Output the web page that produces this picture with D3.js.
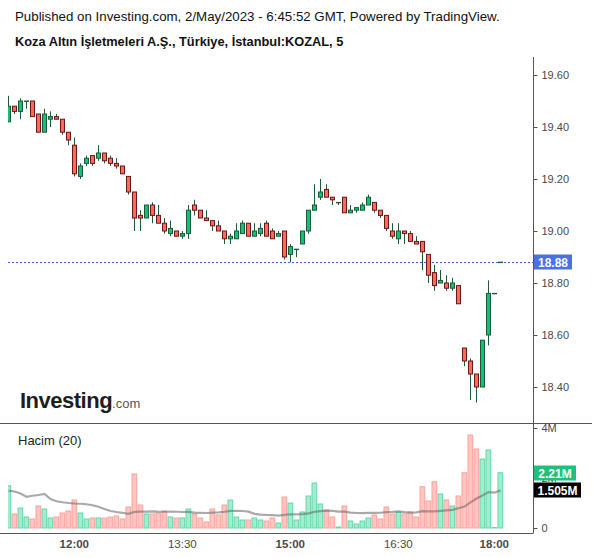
<!DOCTYPE html>
<html>
<head>
<meta charset="utf-8">
<script src="https://cdn.jsdelivr.net/npm/d3@7"></script>
<style>
  body { margin: 0; background: #fff; }
  svg { display: block; font-family: "Liberation Sans", Arial, sans-serif; }
</style>
</head>
<body>
<svg id="chart"></svg>
<script>
// ----------------------------------------- Data -----------------------------------------

// 5 minute bars, KOZAL, 2 May 2023 (17:25 and 17:30 have no bar)
var times = [
  "11:05","11:10","11:15","11:20","11:25","11:30","11:35","11:40","11:45","11:50","11:55",
  "12:00","12:05","12:10","12:15","12:20","12:25","12:30","12:35","12:40","12:45","12:50","12:55",
  "13:00","13:05","13:10","13:15","13:20","13:25","13:30","13:35","13:40","13:45","13:50","13:55",
  "14:00","14:05","14:10","14:15","14:20","14:25","14:30","14:35","14:40","14:45","14:50","14:55",
  "15:00","15:05","15:10","15:15","15:20","15:25","15:30","15:35","15:40","15:45","15:50","15:55",
  "16:00","16:05","16:10","16:15","16:20","16:25","16:30","16:35","16:40","16:45","16:50","16:55",
  "17:00","17:05","17:10","17:15","17:20","17:35","17:40","17:45","17:50","17:55","18:00","18:05"
];

var open = [19.42,19.48,19.46,19.50,19.50,19.45,19.38,19.43,19.44,19.43,
  19.38,19.33,19.21,19.26,19.29,19.28,19.30,19.28,19.26,19.25,
  19.21,19.15,19.06,19.05,19.10,19.06,19.03,18.99,19.00,18.98,
  18.99,19.10,19.08,19.05,19.04,19.02,19.00,18.97,18.97,18.99,
  19.03,18.98,18.99,19.03,19.00,18.98,19.00,18.91,18.93,18.95,
  19.00,19.08,19.13,19.16,19.13,19.11,19.13,19.07,19.08,19.08,
  19.10,19.11,19.08,19.06,19.00,18.97,19.00,18.99,18.96,18.96,
  18.91,18.84,18.80,18.80,18.78,18.79,18.55,18.50,18.45,18.40,
  18.60,18.76,18.88];

var high = [19.52,19.48,19.51,19.50,19.50,19.45,19.47,19.46,19.45,19.43,
  19.38,19.36,19.26,19.29,19.29,19.33,19.30,19.29,19.28,19.25,
  19.21,19.15,19.08,19.10,19.11,19.10,19.05,19.04,19.00,19.00,
  19.10,19.12,19.08,19.08,19.04,19.04,19.00,18.99,19.03,19.04,
  19.03,19.03,19.03,19.04,19.01,19.00,19.00,18.95,18.93,19.00,
  19.08,19.18,19.20,19.18,19.13,19.11,19.13,19.10,19.09,19.11,
  19.14,19.11,19.08,19.06,19.03,19.03,19.00,19.00,18.98,18.96,
  18.91,18.87,18.85,18.83,18.82,18.79,18.55,18.51,18.45,18.58,
  18.81,18.76,18.88];

var low = [19.42,19.45,19.43,19.47,19.44,19.38,19.38,19.40,19.43,19.37,
  19.33,19.21,19.20,19.25,19.25,19.27,19.26,19.25,19.24,19.22,
  19.14,19.00,19.00,19.05,19.03,19.03,18.99,18.98,18.98,18.97,
  18.97,19.06,19.05,19.04,19.00,19.00,18.95,18.95,18.97,18.99,
  18.98,18.98,18.98,18.98,18.97,18.98,18.89,18.88,18.90,18.95,
  18.99,19.08,19.12,19.13,19.10,19.10,19.07,19.07,19.07,19.08,
  19.10,19.07,19.05,19.00,18.97,18.95,18.95,18.96,18.95,18.85,
  18.80,18.77,18.80,18.77,18.77,18.72,18.48,18.35,18.34,18.40,
  18.56,18.76,18.88];

var close = [19.48,19.46,19.50,19.50,19.44,19.38,19.45,19.44,19.43,19.38,
  19.35,19.22,19.25,19.28,19.26,19.30,19.27,19.26,19.25,19.22,
  19.15,19.05,19.05,19.10,19.06,19.03,19.00,19.01,18.98,18.99,
  19.08,19.08,19.05,19.04,19.02,19.00,18.97,18.98,19.00,19.03,
  18.98,19.00,19.01,18.98,18.97,18.99,18.90,18.94,18.93,19.00,
  19.08,19.10,19.15,19.13,19.12,19.11,19.07,19.08,19.09,19.10,
  19.13,19.08,19.06,19.01,18.98,19.00,18.99,18.96,18.95,18.92,
  18.83,18.79,18.81,18.78,18.80,18.72,18.50,18.45,18.40,18.58,
  18.76,18.76,18.88];

// volume in millions
var volume = [1.69,0.56,0.80,0.44,0.36,0.88,0.76,0.40,0.44,0.60,
  0.68,1.12,0.60,0.36,0.40,0.40,0.40,0.44,0.48,0.36,
  0.84,2.16,0.92,0.56,0.56,0.60,0.68,0.44,0.40,0.40,
  0.76,0.56,0.40,0.24,0.76,0.52,0.92,1.12,0.44,0.32,
  0.32,0.40,0.32,0.28,0.40,0.20,1.24,1.00,0.32,0.64,
  1.28,1.80,0.96,0.72,0.44,0.04,0.88,0.28,0.16,0.28,
  0.40,0.52,0.36,0.84,0.56,0.64,0.56,0.64,0.44,1.65,
  1.08,1.85,1.36,1.12,0.88,1.28,2.21,3.72,3.16,2.76,
  3.12,0.02,2.21];

// MA(20) of volume for the first bars (earlier bars are off screen)
var volMaHead = [1.49,1.46,1.38,1.25,1.29,1.32,1.36,1.16,1.07,1.03,
  1.00,0.98,0.97,0.95,0.91,0.85,0.76,0.68,0.64];

var priceTicks = [19.6, 19.4, 19.2, 19.0, 18.8, 18.6, 18.4];
var volTicks = [0, 2, 4];
var timeTicks = ["12:00", "13:30", "15:00", "16:30", "18:00"];

// ----------------------------------------- Setup -----------------------------------------

var width = 600;
var height = 558;
var left = 8;
var axisX = 533;

var svg = d3.select('#chart')
            .attr('width', width)
            .attr('height', height);

svg.append('rect').attr('width', width).attr('height', height).attr('fill', '#fff');

var bars = times.map(function(t, i) {
    return { t: t, o: open[i], h: high[i], l: low[i], c: close[i], v: volume[i] };
});

// MA(20)
bars.forEach(function(d, i) {
    if (i < volMaHead.length) {
        d.ma = volMaHead[i];
    } else {
        d.ma = d3.mean(volume.slice(i - 19, i + 1));
    }
});

// ----------------------------------------- Scales -----------------------------------------

var xScale = d3.scaleBand()
               .domain(times)
               .range([5.3, 5.3 + 6 * times.length]);

function cx(t) { return Math.round(xScale(t) + xScale.bandwidth() / 2); }

var yScale = d3.scaleLinear()
               .domain([18.4, 19.6])
               .range([387, 75]);

var vScale = d3.scaleLinear()
               .domain([0, 4])
               .range([528, 428]);

// clip paths
var defs = svg.append('defs');
defs.append('clipPath').attr('id', 'clipPrice')
    .append('rect').attr('x', left).attr('y', 58).attr('width', axisX - left).attr('height', 423 - 58);
defs.append('clipPath').attr('id', 'clipVol')
    .append('rect').attr('x', left).attr('y', 424).attr('width', axisX - left).attr('height', 533 - 424);

// ----------------------------------------- Titles -----------------------------------------

svg.append('text')
    .text('Published on Investing.com, 2/May/2023 - 6:45:52 GMT, Powered by TradingView.')
    .attr('x', 15)
    .attr('y', 21)
    .attr('font-size', '13.3px')
    .attr('fill', '#111');

svg.append('text')
    .text('Koza Altın İşletmeleri A.Ş., Türkiye, İstanbul:KOZAL, 5')
    .attr('x', 15)
    .attr('y', 46)
    .attr('font-size', '12.8px')
    .attr('font-weight', 'bold')
    .attr('fill', '#111');

// watermark
var logo = svg.append('text')
    .attr('x', 20)
    .attr('y', 408);
logo.append('tspan')
    .text('Investing')
    .attr('font-size', '22px')
    .attr('font-weight', 'bold')
    .attr('letter-spacing', '-0.5')
    .attr('fill', '#1e1e1e');
logo.append('tspan')
    .text('.com')
    .attr('font-size', '13px')
    .attr('fill', '#555');

// ----------------------------------------- Frame -----------------------------------------

svg.append('line')
    .attr('x1', axisX + 0.5).attr('x2', axisX + 0.5)
    .attr('y1', 57).attr('y2', 533)
    .attr('stroke', '#555');

svg.append('line')
    .attr('x1', 0).attr('x2', 592)
    .attr('y1', 423.5).attr('y2', 423.5)
    .attr('stroke', '#555');

svg.append('line')
    .attr('x1', 0).attr('x2', axisX + 0.5)
    .attr('y1', 533.5).attr('y2', 533.5)
    .attr('stroke', '#555');

// ----------------------------------------- Axes -----------------------------------------

var yAxis = d3.axisRight(yScale)
              .tickValues(priceTicks)
              .tickFormat(d3.format('.2f'))
              .tickSize(4)
              .tickPadding(4);

svg.append('g')
    .attr('transform', 'translate(' + (axisX + 0.5) + ',0)')
    .call(yAxis)
    .call(function(g) { g.select('.domain').remove(); })
    .call(function(g) {
        g.selectAll('line').attr('stroke', '#555');
        g.selectAll('text').attr('fill', '#4a4a4a').attr('font-size', '11px').attr('font-family', null);
    });

var vAxis = d3.axisRight(vScale)
              .tickValues(volTicks)
              .tickFormat(function(d) { return d === 0 ? '0' : d + 'M'; })
              .tickSize(4)
              .tickPadding(4);

svg.append('g')
    .attr('transform', 'translate(' + (axisX + 0.5) + ',0)')
    .call(vAxis)
    .call(function(g) { g.select('.domain').remove(); })
    .call(function(g) {
        g.selectAll('line').attr('stroke', '#555');
        g.selectAll('text').attr('fill', '#4a4a4a').attr('font-size', '11px').attr('font-family', null);
    });

var xAxis = d3.axisBottom(xScale)
              .tickValues(timeTicks)
              .tickSize(0)
              .tickPadding(7);

svg.append('g')
    .attr('transform', 'translate(0,533)')
    .call(xAxis)
    .call(function(g) { g.select('.domain').remove(); })
    .call(function(g) {
        g.selectAll('text')
         .attr('fill', '#4a4a4a')
         .attr('font-size', '11.5px')
         .attr('font-family', null)
         .attr('font-weight', function(d) { return d.slice(3) === '00' ? 'bold' : 'normal'; });
    });

// ----------------------------------------- Last price line -----------------------------------------

var last = bars[bars.length - 1];

svg.append('line')
    .attr('x1', left).attr('x2', axisX)
    .attr('y1', Math.round(yScale(last.c)) + 0.5)
    .attr('y2', Math.round(yScale(last.c)) + 0.5)
    .attr('stroke', '#3d63dd')
    .attr('stroke-dasharray', '2,2');

// ----------------------------------------- Candles -----------------------------------------

var candles = svg.append('g').attr('clip-path', 'url(#clipPrice)');

candles.selectAll('.wick')
    .data(bars)
    .enter()
    .append('line')
        .classed('wick', true)
        .attr('x1', d => cx(d.t) + 0.5)
        .attr('x2', d => cx(d.t) + 0.5)
        .attr('y1', d => yScale(d.h))
        .attr('y2', d => yScale(d.l))
        .attr('stroke', '#1c5a36');

candles.selectAll('.body')
    .data(bars)
    .enter()
    .append('rect')
        .classed('body', true)
        .attr('x', d => cx(d.t) - 1.5)
        .attr('width', 4)
        .attr('y', d => yScale(Math.max(d.o, d.c)))
        .attr('height', d => Math.max(0.4, Math.abs(yScale(d.o) - yScale(d.c))))
        .attr('fill', d => d.c >= d.o ? '#0fc27a' : '#fb6a5e')
        .attr('stroke', d => d.c >= d.o ? '#1c5a36' : '#6e1515')
        .attr('stroke-width', 1);

// ----------------------------------------- Volume -----------------------------------------

var vol = svg.append('g').attr('clip-path', 'url(#clipVol)');

vol.selectAll('rect')
    .data(bars)
    .enter()
    .append('rect')
        .attr('x', d => cx(d.t) - 2)
        .attr('width', 4.7)
        .attr('y', d => vScale(d.v))
        .attr('height', d => Math.max(0.3, vScale(0) - vScale(d.v)))
        .attr('fill', d => d.c >= d.o ? '#a6ebcf' : '#ffc6c1')
        .attr('stroke', d => d.c >= d.o ? '#62d8a8' : '#f7a39c')
        .attr('stroke-width', 1);

var maLine = d3.line()
               .x(d => cx(d.t) + 0.5)
               .y(d => vScale(d.ma));

vol.append('path')
    .datum(bars)
    .attr('d', maLine)
    .attr('fill', 'none')
    .attr('stroke', '#6f6f6f')
    .attr('stroke-opacity', 0.6)
    .attr('stroke-width', 2.2);

svg.append('text')
    .text('Hacim (20)')
    .attr('x', 18)
    .attr('y', 445)
    .attr('font-size', '13px')
    .attr('fill', '#222');

// ----------------------------------------- Value labels -----------------------------------------

function valueLabel(y, w, fill, txt) {
    svg.append('rect')
        .attr('x', axisX + 1)
        .attr('y', Math.round(y) - 7.5)
        .attr('width', w)
        .attr('height', 15)
        .attr('fill', fill);
    svg.append('text')
        .text(txt)
        .attr('x', axisX + 1 + w / 2)
        .attr('y', Math.round(y) + 0.5)
        .attr('dy', '0.35em')
        .attr('text-anchor', 'middle')
        .attr('font-size', '12px')
        .attr('font-weight', 'bold')
        .attr('fill', '#fff');
}

valueLabel(yScale(last.c), 38, '#4b70e6', d3.format('.2f')(last.c));
valueLabel(vScale(last.v), 42, '#1fc07c', d3.format('.2f')(last.v) + 'M');
valueLabel(vScale(last.ma), 47, '#000', d3.format('.3f')(last.ma) + 'M');
</script>
</body>
</html>
